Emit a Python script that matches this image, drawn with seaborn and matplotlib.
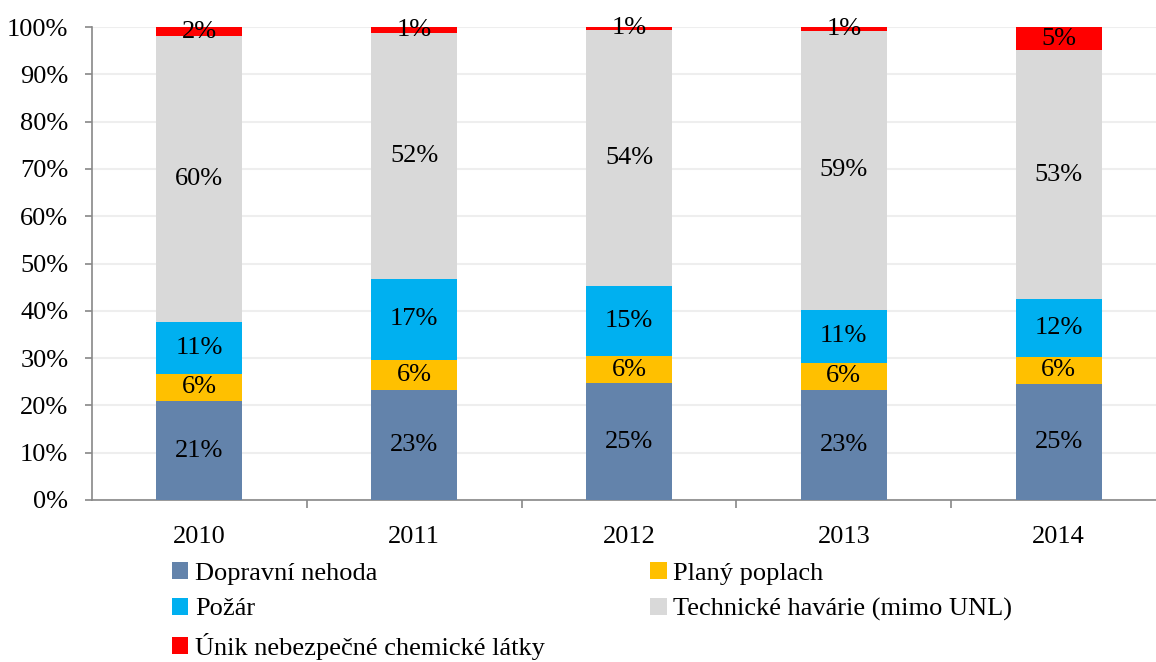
import numpy as np
import pandas as pd
import matplotlib.pyplot as plt
import seaborn as sns
from matplotlib.patches import Patch
from matplotlib.ticker import FixedLocator, PercentFormatter

years = ['2010', '2011', '2012', '2013', '2014']
series = ['Dopravní nehoda', 'Planý poplach', 'Požár',
          'Technické havárie (mimo UNL)', 'Únik nebezpečné chemické látky']
dopravni = [20.9, 23.3, 24.7, 23.3, 24.6]
plany = [5.8, 6.3, 5.7, 5.7, 5.7]
pozar = [10.9, 17.2, 14.8, 11.2, 12.2]
technicke = [60.4, 51.9, 54.2, 59.0, 52.6]
unik = [2.0, 1.3, 0.6, 0.8, 4.9]
colors = ['#6383AB', '#FFC000', '#00B0F0', '#D9D9D9', '#FF0000']

df = pd.DataFrame({'Rok': years})
for name, vals in zip(series, [dopravni, plany, pozar, technicke, unik]):
    df[name] = vals

sns.set_style('white')
plt.rcParams['font.family'] = ['Liberation Serif', 'DejaVu Serif']
plt.rcParams['text.color'] = 'black'
plt.rcParams['xtick.color'] = 'black'
plt.rcParams['ytick.color'] = 'black'
fs = 19

fig = plt.figure(figsize=(11.56, 6.62), dpi=100)
ax = fig.add_axes([92 / 1156, 1 - 500 / 662, 1074 / 1156, 473 / 662])

cum = df[series].cumsum(axis=1)
# draw the cumulative totals from the top series down so each sits on the next
for name, c in reversed(list(zip(series, colors))):
    sns.barplot(x=df['Rok'], y=cum[name], color=c, saturation=1, width=0.4,
                linewidth=0, ax=ax, zorder=3)

for i in range(len(years)):
    base = 0
    for name in series:
        v = df.loc[i, name]
        ax.text(i, base + v / 2, f'{v:.0f}%', ha='center', va='center',
                fontsize=fs, color='black', zorder=5)
        base += v

ax.set_ylim(0, 100)
ax.set_xlim(-0.5, len(years) - 0.5)
ax.set_yticks(np.arange(0, 101, 10))
ax.yaxis.set_major_formatter(PercentFormatter(decimals=0))
ax.yaxis.grid(True, color='#EEEEEE', linewidth=1.5, zorder=0)
ax.set_axisbelow(True)
ax.set_xlabel('')
ax.set_ylabel('')

for s in ['top', 'right']:
    ax.spines[s].set_visible(False)
for s in ['left', 'bottom']:
    ax.spines[s].set_color('#888888')
    ax.spines[s].set_linewidth(1.2)

ax.tick_params(axis='y', which='major', direction='out', length=5, width=1.2,
               color='#888888', labelcolor='black', labelsize=fs, pad=12, left=True)
ax.tick_params(axis='x', which='major', length=0, labelsize=fs,
               labelcolor='black', pad=19)
ax.xaxis.set_minor_locator(FixedLocator(np.arange(0.5, len(years) - 0.5, 1)))
ax.tick_params(axis='x', which='minor', direction='out', length=6, width=1.2,
               color='#888888', bottom=True)

handles = [Patch(facecolor=c, edgecolor='none') for c in colors]
order = [0, 2, 4, 1, 3]
fig.legend([handles[k] for k in order], [series[k] for k in order],
           ncol=2, loc='upper left', bbox_to_anchor=(172 / 1156, 1 - 562 / 662),
           frameon=False, fontsize=fs, handlelength=0.62, handleheight=0.62,
           handletextpad=0.25, columnspacing=4.0, labelspacing=0.48,
           borderpad=0, borderaxespad=0)

fig.savefig('out.png', dpi=100)
